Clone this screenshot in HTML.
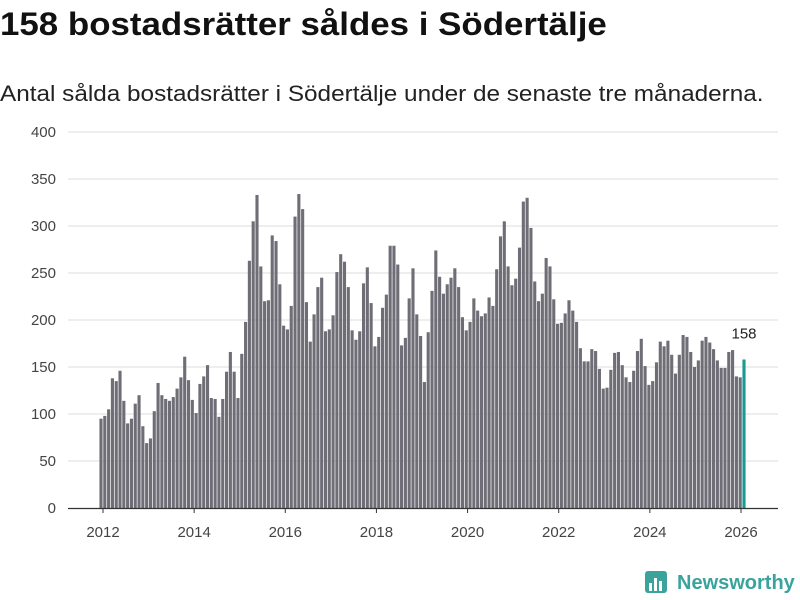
<!DOCTYPE html>
<html><head><meta charset="utf-8"><style>
body{margin:0;background:#fff;width:800px;height:600px;overflow:hidden;font-family:"Liberation Sans",Arial,sans-serif;}
#title{position:absolute;left:0;top:6px;font-size:32px;font-weight:bold;color:#111;white-space:nowrap;transform:scaleX(1.09);transform-origin:left top;}
#sub{position:absolute;left:0;top:81px;font-size:22px;color:#222;white-space:nowrap;transform:scaleX(1.105);transform-origin:left top;}
svg{position:absolute;left:0;top:0;}
</style></head><body>
<div id="title">158 bostadsrätter såldes i Södertälje</div>
<div id="sub">Antal sålda bostadsrätter i Södertälje under de senaste tre månaderna.</div>
<svg id="chart" width="800" height="600"></svg>
<script>
const values = [95,98,105,138,135,146,114,90,95,111,120,87,69,74,103,133,120,116,114,118,127,139,161,136,115,101,132,140,152,117,116,97,116,145,166,145,117,164,198,263,305,333,
257,220,221,290,284,238,194,190,215,310,334,318,219,177,206,235,245,188,190,205,251,270,262,235,189,179,188,239,256,218,172,182,213,227,279,279,259,173,181,223,255,206,
183,134,187,231,274,246,228,238,245,255,235,203,189,198,223,210,204,207,224,215,254,289,305,257,237,244,277,326,330,298,241,220,228,266,257,222,196,197,207,221,210,198,170,
156,156,169,167,148,127,128,147,165,166,152,139,134,146,167,180,151,131,135,155,177,172,178,163,143,163,184,182,166,150,157,178,182,176,169,157,149,149,166,168,140,139,158];
const yTicks = [0,50,100,150,200,250,300,350,400];
const xYears = [2012,2014,2016,2018,2020,2022,2024,2026];
const lastLabel = "158";

const NS="http://www.w3.org/2000/svg";
const svg=document.getElementById('chart');
const y0=508, y400=132, left=40, right=778;
function yScale(v){return y0-(v/400)*(y0-y400);}
function xYear(yr){return 103+(yr-2012)*(741-103)/14;}
const n=values.length;
function xBar(i){return 101+i*(643/(n-1));}
function mk(tag,attrs){const e=document.createElementNS(NS,tag);for(const k in attrs)e.setAttribute(k,attrs[k]);svg.appendChild(e);return e;}

yTicks.forEach(t=>{
  if(t>0){const g=mk('line',{x1:left+28,x2:right,y1:yScale(t),y2:yScale(t),stroke:'#dcdcdc','stroke-width':1});
  
  }
  const tx=mk('text',{x:56,y:yScale(t)+5,'text-anchor':'end','font-size':15,fill:'#444','font-family':'Liberation Sans, sans-serif'});
  tx.textContent=t;
  
  
});
const bw=(643/(n-1))*0.82;
values.forEach((v,i)=>{
  const r=mk('rect',{x:xBar(i)-bw/2,y:yScale(v),width:bw,height:y0-yScale(v),fill:i===n-1?'#1a9a94':'#6f6e76'});
  
  
});
const base=mk('line',{x1:68,x2:right,y1:y0+0.5,y2:y0+0.5,stroke:'#333','stroke-width':1.2});


xYears.forEach(yr=>{
  const tk=mk('line',{x1:xYear(yr),x2:xYear(yr),y1:y0,y2:y0+5,stroke:'#333'});
  
  
  const tx=mk('text',{x:xYear(yr),y:537,'text-anchor':'middle','font-size':15,fill:'#444','font-family':'Liberation Sans, sans-serif'});
  tx.textContent=yr;
  
  
});
const lab=mk('text',{x:xBar(n-1),y:yScale(values[n-1])-21,'text-anchor':'middle','font-size':15,fill:'#222','font-family':'Liberation Sans, sans-serif'});
lab.textContent=lastLabel;


const b1=mk('rect',{x:645,y:571,width:22,height:22,rx:3,fill:'#3aa39c'});


[[649,583,3,8],[654,578,3,13],[659,581,3,10]].forEach((a,j)=>{const r=mk('rect',{x:a[0],y:a[1],width:a[2],height:a[3],fill:'#fff'});

});
const lt=mk('text',{x:677,y:589,'font-size':20,'font-weight':'bold',fill:'#3aa39c','font-family':'Liberation Sans, sans-serif'});
lt.textContent='Newsworthy';


</script>
</body></html>
